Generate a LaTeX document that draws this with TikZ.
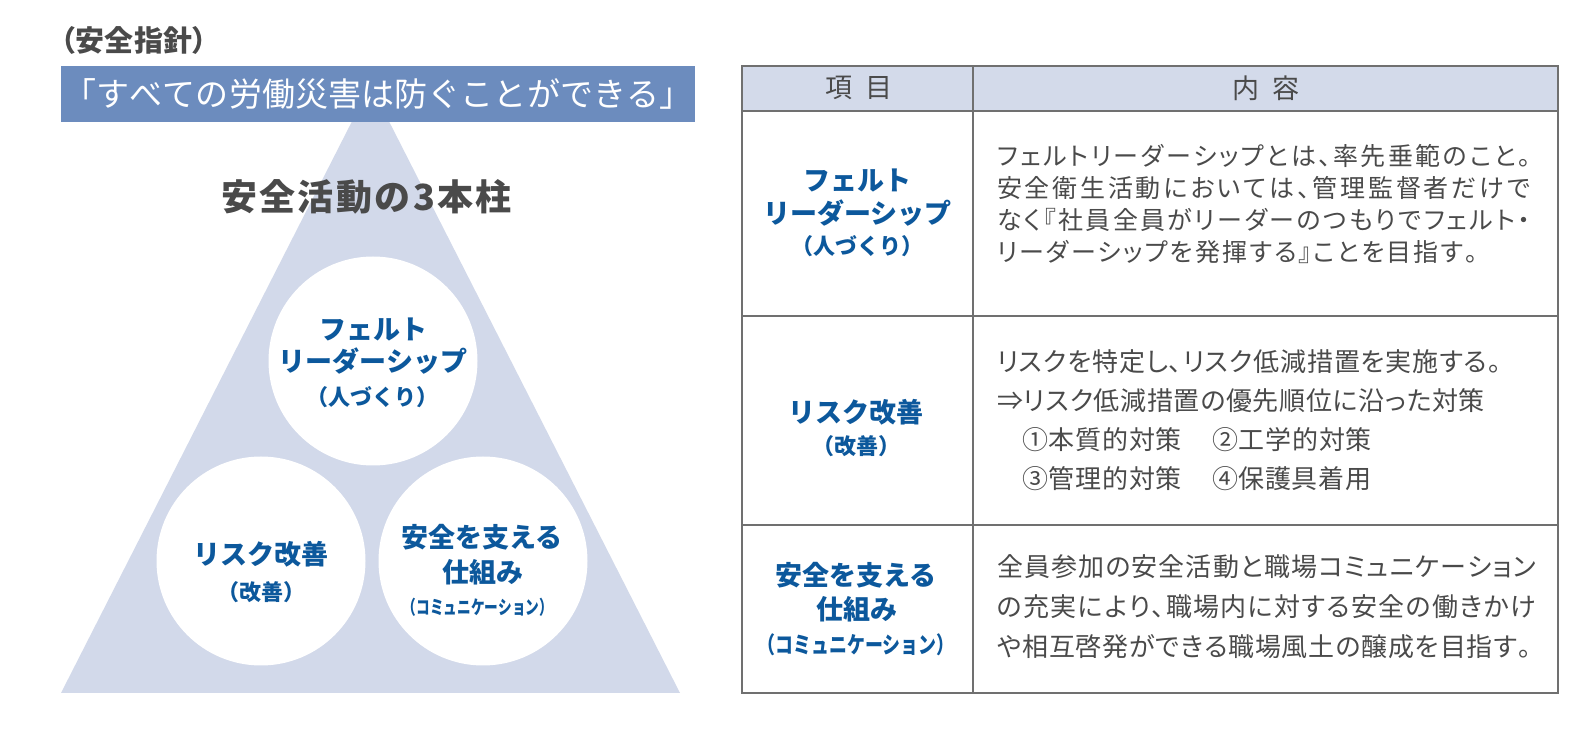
\documentclass[tikz,border=0pt]{standalone}
\usepackage{fontspec}
\usepackage{graphicx}
\setmainfont{Noto Sans CJK JP}
\newfontfamily\jpp[RawFeature=+palt]{Noto Sans CJK JP}
\newcommand\fsz[1]{\fontsize{#1}{#1}\selectfont}
\makeatletter
\newcommand\spreadto[2]{\makebox[#1][s]{\@tfor\sp@tok:=#2\do{\sp@tok\hfil}\unskip}}
\makeatother
\definecolor{bannerc}{RGB}{108,140,190}
\definecolor{tric}{RGB}{210,217,234}
\definecolor{hdrc}{RGB}{211,218,234}
\definecolor{bluc}{RGB}{12,88,156}
\definecolor{gryc}{RGB}{74,74,74}
\definecolor{rulec}{RGB}{112,112,112}
\tikzset{
  every node/.style={inner sep=0pt, outer sep=0pt},
  itemtxt/.style={text=bluc, font=\bfseries\fsz{13.5pt}},
  subtxt/.style={text=bluc, font=\bfseries\fsz{11pt}},
  hdrtxt/.style={text=gryc, font=\fsz{13.5pt}},
  bodya/.style={text=gryc, font=\jpp\fsz{12.5pt}, anchor=west},
  bodyb/.style={text=gryc, font=\jpp\fsz{13pt}, anchor=west},
  cell/.style={draw=rulec, line width=0.8pt, anchor=north west},
  pillar/.style={circle, fill=white, minimum size=104.5pt}
}
\begin{document}
\begin{tikzpicture}[x=0.5pt,y=-0.5pt]
\fill[white] (0,0) rectangle (1581,731);
\path[use as bounding box] (0,0) rectangle (1581,731);

% triangle
\fill[tric] (370.5,85) -- (680,693) -- (61,693) -- cycle;

% banner and title
\node[fill=bannerc, minimum width=317pt, minimum height=28pt, text=white, font=\fsz{16.5pt}] (banner) at (378,94)
  {\spreadto{314.5pt}{「すべての労働災害は防ぐことができる」}};
\node[anchor=west, text=gryc, font=\jpp\bfseries\fsz{14.5pt}] (title) at (61,40) {\spreadto{73pt}{（安全指針）}};
\node[text=gryc, font=\bfseries\fsz{18pt}] (pillars) at (366.5,197) {\spreadto{145.5pt}{安全活動の3本柱}};

% circles
\node[pillar] (c1) at (373,361) {};
\node[pillar] (c2) at (261,561) {};
\node[pillar] (c3) at (483,561) {};

\node[itemtxt] (c1a) at (373,330) {フェルト};
\node[itemtxt] (c1b) at (373,361) {リーダーシップ};
\node[subtxt] (c1c) at (372,397) {（人づくり）};

\node[itemtxt] (c2a) at (261,554) {リスク改善};
\node[subtxt] (c2b) at (261,592) {（改善）};

\node[itemtxt] (c3a) at (482,537) {安全を支える};
\node[itemtxt] (c3b) at (483,572) {仕組み};
\node[subtxt] (c3c) at (478,607) {\scalebox{0.72}[1]{\fsz{9.5pt}（コミュニケーション）}};

% table cells
\node[cell, fill=hdrc, minimum width=115.5pt, minimum height=22.5pt] (h1) at (742,66) {};
\node[cell, fill=hdrc, minimum width=292.5pt, minimum height=22.5pt] (h2) at (973,66) {};
\node[cell, minimum width=115.5pt, minimum height=102.5pt] (r1a) at (742,111) {};
\node[cell, minimum width=292.5pt, minimum height=102.5pt] (r1b) at (973,111) {};
\node[cell, minimum width=115.5pt, minimum height=104.5pt] (r2a) at (742,316) {};
\node[cell, minimum width=292.5pt, minimum height=104.5pt] (r2b) at (973,316) {};
\node[cell, minimum width=115.5pt, minimum height=84pt] (r3a) at (742,525) {};
\node[cell, minimum width=292.5pt, minimum height=84pt] (r3b) at (973,525) {};

% header texts
\node[hdrtxt] (h1t) at (859,88) {項\hspace{7pt}目};
\node[hdrtxt] (h2t) at (1266,88) {内\hspace{7pt}容};

% left column
\node[itemtxt] (l1a) at (857.5,181) {フェルト};
\node[itemtxt] (l1b) at (857.5,213) {リーダーシップ};
\node[subtxt] (l1c) at (857.5,246) {（人づくり）};
\node[itemtxt] (l2a) at (856,412) {リスク改善};
\node[subtxt] (l2b) at (856,446) {（改善）};
\node[itemtxt] (l3a) at (856,575) {安全を支える};
\node[itemtxt] (l3b) at (857,609) {仕組み};
\node[subtxt] (l3c) at (856,645) {\scalebox{0.78}[1]{\fsz{11.5pt}（コミュニケーション）}};

% right column row 1
\node[bodya] (t1a) at (997,156) {\spreadto{267pt}{フェルトリーダーシップとは、率先垂範のこと。}};
\node[bodya] (t1b) at (997,188) {\spreadto{266.5pt}{安全衛生活動においては、管理監督者だけで}};
\node[bodya] (t1c) at (997,220) {\spreadto{266.5pt}{なく『社員全員がリーダーのつもりでフェルト・}};
\node[bodya] (t1d) at (997,252) {\spreadto{240.5pt}{リーダーシップを発揮する』ことを目指す。}};

% row 2
\node[bodyb] (t2a) at (997,362) {\spreadto{252pt}{リスクを特定し、リスク低減措置を実施する。}};
\node[bodyb] (t2b) at (997,401) {\spreadto{244pt}{⇒リスク低減措置の優先順位に沿った対策}};
\node[bodyb] (t2c) at (1022,440) {\spreadto{80pt}{①本質的対策}};
\node[bodyb] (t2d) at (1212,440) {\spreadto{80pt}{②工学的対策}};
\node[bodyb] (t2e) at (1022,479) {\spreadto{80pt}{③管理的対策}};
\node[bodyb] (t2f) at (1212,479) {\spreadto{79.5pt}{④保護具着用}};

% row 3
\node[bodyb] (t3a) at (997,567) {\spreadto{269.5pt}{全員参加の安全活動と職場コミュニケーション}};
\node[bodyb] (t3b) at (997,607) {\spreadto{269.5pt}{の充実により、職場内に対する安全の働きかけ}};
\node[bodyb] (t3c) at (997,647) {\spreadto{267pt}{や相互啓発ができる職場風土の醸成を目指す。}};
\end{tikzpicture}
\end{document}
